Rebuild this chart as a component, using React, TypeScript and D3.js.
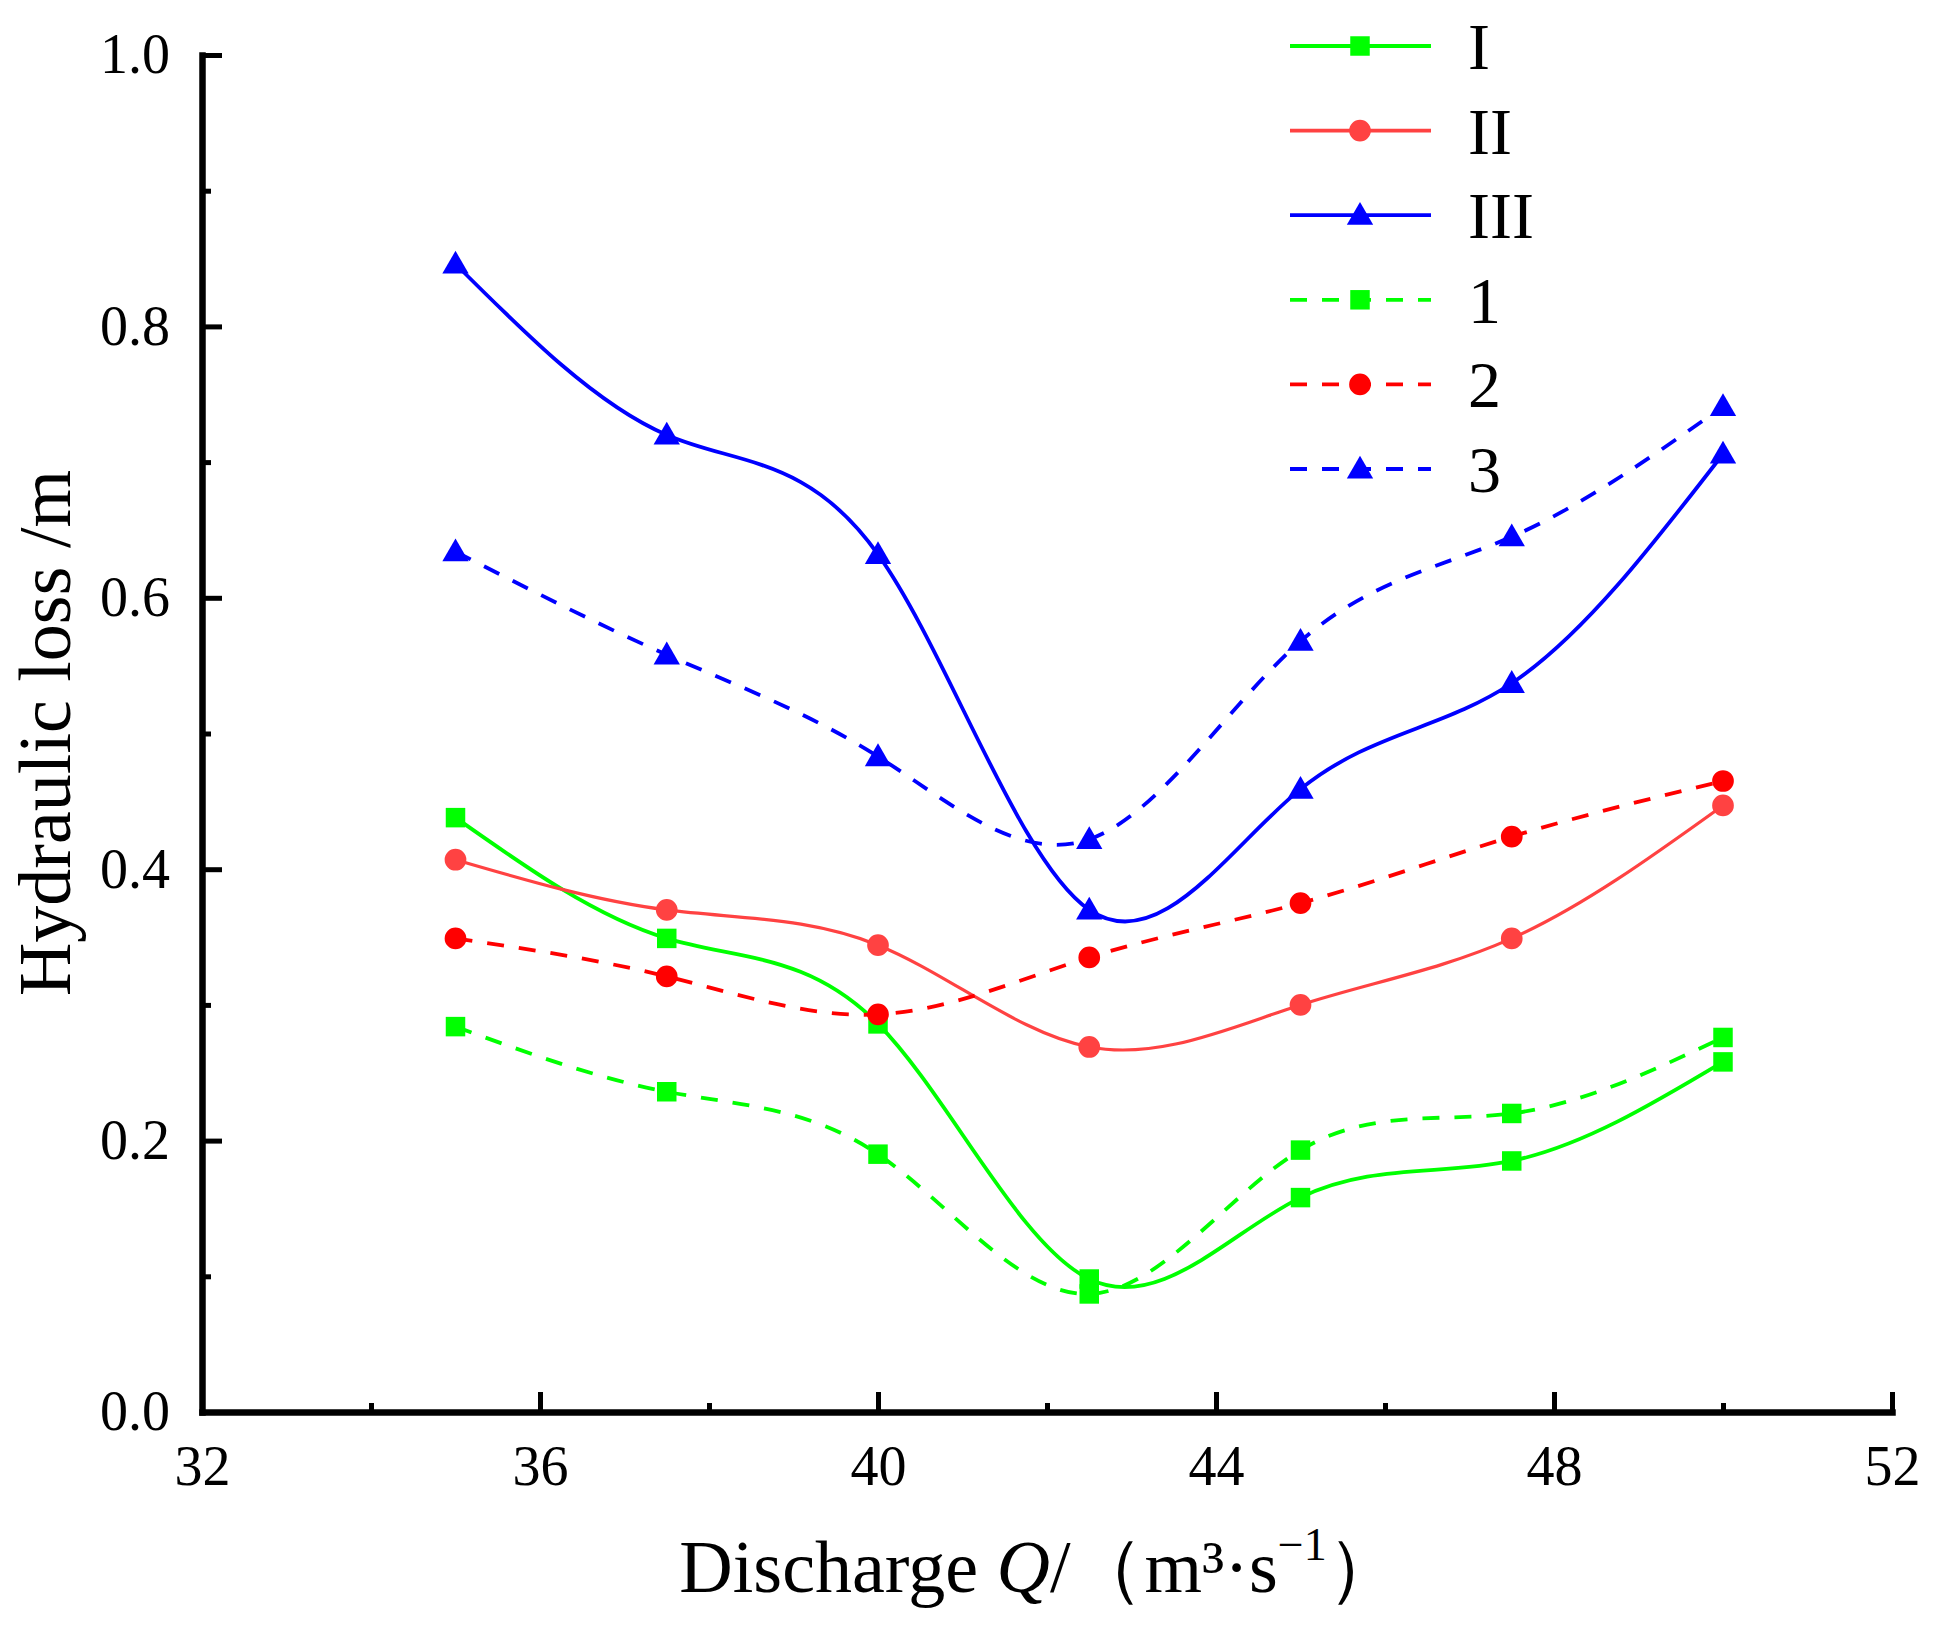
import { useEffect, useRef } from "react";
import * as d3 from "d3";

const discharge = [35, 37.5, 40, 42.5, 45, 47.5, 50];

const lossI = [0.438, 0.349, 0.286, 0.098, 0.158, 0.185, 0.258];
const lossII = [0.407, 0.37, 0.344, 0.269, 0.3, 0.349, 0.447];
const lossIII = [0.846, 0.72, 0.632, 0.37, 0.459, 0.537, 0.706];
const loss1 = [0.284, 0.236, 0.19, 0.087, 0.193, 0.22, 0.276];
const loss2 = [0.349, 0.321, 0.293, 0.335, 0.375, 0.424, 0.465];
const loss3 = [0.634, 0.558, 0.483, 0.422, 0.568, 0.645, 0.741];

const seriesNames = ["I", "II", "III", "1", "2", "3"];

const xMajor = [32, 36, 40, 44, 48, 52];
const xMinor = [34, 38, 42, 46, 50];
const yMajor = [0, 0.2, 0.4, 0.6, 0.8, 1.0];
const yMinor = [0.1, 0.3, 0.5, 0.7, 0.9];

type Shape = "square" | "circle" | "triangle";

interface Series {
  name: string;
  values: number[];
  color: string;
  shape: Shape;
  dashed: boolean;
}

const series: Series[] = [
  { name: seriesNames[0], values: lossI, color: "#00ff00", shape: "square", dashed: false },
  { name: seriesNames[1], values: lossII, color: "#ff4242", shape: "circle", dashed: false },
  { name: seriesNames[2], values: lossIII, color: "#0000ff", shape: "triangle", dashed: false },
  { name: seriesNames[3], values: loss1, color: "#00ff00", shape: "square", dashed: true },
  { name: seriesNames[4], values: loss2, color: "#ff0000", shape: "circle", dashed: true },
  { name: seriesNames[5], values: loss3, color: "#0000ff", shape: "triangle", dashed: true },
];

const W = 1942;
const H = 1626;
const FONT = "'Times New Roman', 'Liberation Serif', serif";

export default function App() {
  const svgRef = useRef<SVGSVGElement>(null);

  useEffect(() => {
    if (!svgRef.current) return;
    const svg = d3.select(svgRef.current);
    svg.selectAll("*").remove();

    const x = d3.scaleLinear().domain([32, 52]).range([202, 1892]);
    const y = d3.scaleLinear().domain([0, 1]).range([1412, 55]);

    const symbolFor = (shape: Shape) => {
      if (shape === "square") return d3.symbol(d3.symbolSquare, 380);
      if (shape === "circle") return d3.symbol(d3.symbolCircle, 370);
      return d3.symbol(d3.symbolTriangle, 300);
    };

    // curves
    const line = d3
      .line<number>()
      .x((_, i) => x(discharge[i]))
      .y((d) => y(d))
      .curve(d3.curveNatural);

    const plot = svg.append("g");
    series.forEach((s) => {
      plot
        .append("path")
        .attr("d", line(s.values))
        .attr("fill", "none")
        .attr("stroke", s.color)
        .attr("stroke-width", s.shape === "circle" && !s.dashed ? 3.2 : 3.8)
        .attr("stroke-dasharray", s.dashed ? "17,15" : null);
    });
    series.forEach((s) => {
      plot
        .selectAll(null)
        .data(s.values)
        .join("path")
        .attr("d", symbolFor(s.shape)())
        .attr("transform", (d, i) => `translate(${x(discharge[i])},${y(d) + (s.shape === "triangle" ? 2 : 0)})`)
        .attr("fill", s.color);
    });

    // axes
    const xAxis = svg
      .append("g")
      .attr("transform", `translate(0,${y(0)})`)
      .call(
        d3
          .axisBottom(x)
          .tickValues(xMajor)
          .tickSizeInner(-20)
          .tickSizeOuter(0)
          .tickPadding(33)
          .tickFormat(d3.format("d"))
      );
    svg
      .append("g")
      .attr("transform", `translate(0,${y(0)})`)
      .call(d3.axisBottom(x).tickValues(xMinor).tickSizeInner(-9).tickSizeOuter(0).tickFormat(() => ""))
      .call((g) => g.select(".domain").remove())
      .selectAll("line")
      .attr("stroke", "#000")
      .attr("stroke-width", 5);

    const yAxis = svg
      .append("g")
      .attr("transform", `translate(${x(32)},0)`)
      .call(
        d3
          .axisLeft(y)
          .tickValues(yMajor)
          .tickSizeInner(-20)
          .tickSizeOuter(0)
          .tickPadding(32)
          .tickFormat(d3.format(".1f"))
      );
    svg
      .append("g")
      .attr("transform", `translate(${x(32)},0)`)
      .call(d3.axisLeft(y).tickValues(yMinor).tickSizeInner(-9).tickSizeOuter(0).tickFormat(() => ""))
      .call((g) => g.select(".domain").remove())
      .selectAll("line")
      .attr("stroke", "#000")
      .attr("stroke-width", 5);

    [xAxis, yAxis].forEach((g) => {
      g.select(".domain").attr("stroke", "#000").attr("stroke-width", 6.5).attr("stroke-linecap", "square");
      g.selectAll(".tick line").attr("stroke", "#000").attr("stroke-width", 5);
      g.selectAll(".tick text")
        .attr("fill", "#000")
        .attr("font-family", FONT)
        .attr("font-size", 56);
    });

    // axis titles
    const xt = svg
      .append("text")
      .attr("x", 1040)
      .attr("y", 1592)
      .attr("text-anchor", "middle")
      .attr("font-family", FONT)
      .attr("font-size", 74)
      .attr("fill", "#000");
    xt.append("tspan").text("Discharge ");
    xt.append("tspan").attr("font-style", "italic").text("Q");
    xt.append("tspan").text("/（m³·s");
    xt.append("tspan").attr("font-size", 46).attr("dy", -32).text("−1");
    xt.append("tspan").attr("dy", 32).text("）");

    svg
      .append("text")
      .attr("transform", `translate(70,733) rotate(-90)`)
      .attr("text-anchor", "middle")
      .attr("font-family", FONT)
      .attr("font-size", 74)
      .attr("fill", "#000")
      .text("Hydraulic loss /m");

    // legend
    const legend = svg.append("g");
    series.forEach((s, i) => {
      const ly = 46 + i * 84.6;
      const row = legend.append("g").attr("transform", `translate(0,${ly})`);
      row
        .append("line")
        .attr("x1", 1290)
        .attr("x2", 1431)
        .attr("stroke", s.color)
        .attr("stroke-width", 3.8)
        .attr("stroke-dasharray", s.dashed ? "17,15" : null);
      row
        .append("path")
        .attr("d", symbolFor(s.shape)())
        .attr("transform", `translate(1360,${s.shape === "triangle" ? 2 : 0})`)
        .attr("fill", s.color);
      row
        .append("text")
        .attr("x", 1468)
        .attr("y", 23)
        .attr("font-family", FONT)
        .attr("font-size", 66)
        .attr("fill", "#000")
        .text(s.name);
    });
  }, []);

  return (
    <div style={{ position: "absolute", left: 0, top: 0 }}>
      <svg ref={svgRef} width={W} height={H} style={{ display: "block", background: "#fff" }} />
    </div>
  );
}
